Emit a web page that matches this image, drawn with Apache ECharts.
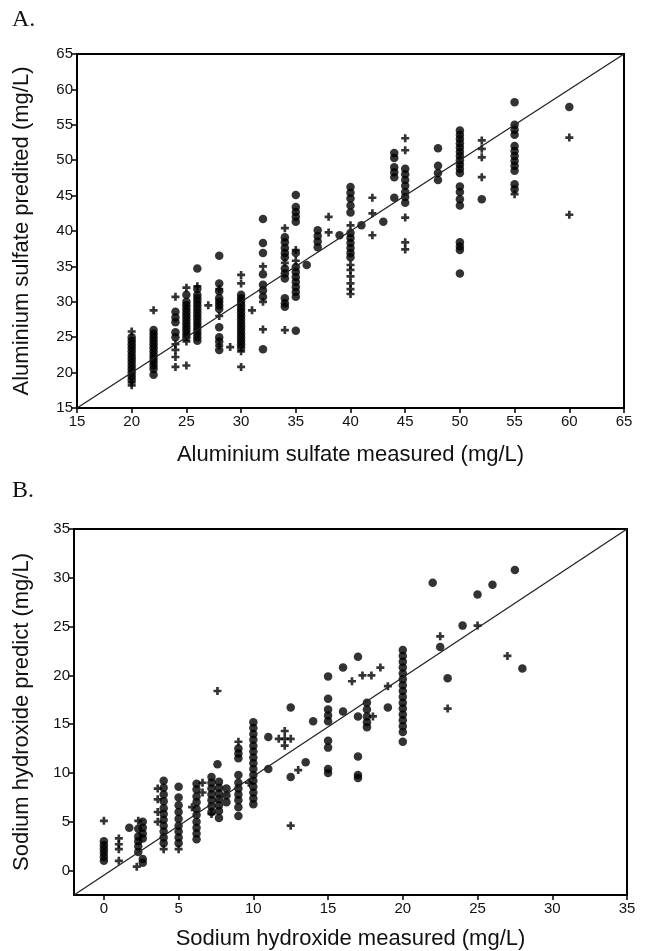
<!DOCTYPE html>
<html><head><meta charset="utf-8">
<script src="https://cdn.jsdelivr.net/npm/echarts@6/dist/echarts.min.js"></script>
<style>html,body{margin:0;padding:0;background:#fff}#c{width:646px;height:951px}</style>
</head><body><div id="c"></div>
<script>
// ---- Panel A data (Aluminium sulfate) ----
const aTicks = [15,20,25,30,35,40,45,50,55,60,65];
const aDiag = [[15,15],[65,65]];
const aDots = [
 [20,19.0],[20,19.5],[20,20.0],[20,20.5],[20,21.0],[20,21.5],[20,22.0],[20,22.5],[20,23.0],[20,23.5],[20,24.0],[20,24.5],[20,25.0],
 [22,19.7],[22,20.5],[22,21.0],[22,21.5],[22,22.0],[22,22.5],[22,23.0],[22,23.5],[22,24.0],[22,24.5],[22,25.0],[22,25.5],[22,26.0],
 [24,25.0],[24,25.7],[24,27.1],[24,27.8],[24,28.6],
 [25,25.0],[25,25.5],[25,26.0],[25,26.5],[25,27.0],[25,27.5],[25,28.0],[25,28.5],[25,29.0],[25,29.5],[25,30.0],[25,31.0],
 [26,34.7],[26,24.5],[26,25.0],[26,25.5],[26,26.0],[26,26.5],[26,27.0],[26,27.5],[26,28.0],[26,28.5],[26,29.0],[26,29.5],[26,30.0],[26,30.5],[26,31.0],[26,31.8],
 [28,36.5],[28,32.6],[28,31.5],[28,30.5],[28,30.0],[28,29.5],[28,29.0],[28,26.4],[28,25.0],[28,24.4],[28,23.2],
 [30,31.0],[30,30.5],[30,30.0],[30,29.5],[30,29.0],[30,28.5],[30,28.0],[30,27.5],[30,27.0],[30,26.5],[30,26.0],[30,25.5],[30,25.0],[30,24.5],[30,24.0],[30,23.5],
 [32,41.7],[32,38.3],[32,36.9],[32,33.9],[32,32.4],[32,31.6],[32,30.7],[32,23.3],
 [34,39.1],[34,38.4],[34,37.6],[34,36.9],[34,36.3],[34,34.7],[34,34.0],[34,33.3],[34,30.5],[34,29.8],[34,29.3],
 [35,45.1],[35,43.4],[35,42.7],[35,42.0],[35,41.3],[35,36.9],[35,34.9],[35,34.2],[35,33.5],[35,32.8],[35,32.1],[35,31.4],[35,30.7],[35,25.9],
 [36,35.2],
 [37,40.1],[37,39.3],[37,38.5],[37,37.7],
 [39,39.4],
 [40,46.2],[40,45.4],[40,44.6],[40,43.6],[40,42.6],[40,39.7],[40,39.0],[40,38.3],[40,37.6],[40,36.9],[40,36.3],
 [41,40.8],[43,41.3],
 [44,51.0],[44,50.3],[44,49.0],[44,48.3],[44,47.6],[44,44.7],
 [45,48.8],[45,48.0],[45,47.2],[45,46.4],[45,45.5],[45,44.8],[45,44.0],
 [48,51.7],[48,49.2],[48,48.2],[48,47.2],
 [50,54.2],[50,53.6],[50,53.0],[50,52.4],[50,51.8],[50,51.2],[50,50.6],[50,50.0],[50,49.4],[50,48.8],[50,48.2],[50,46.3],[50,45.5],[50,44.5],[50,43.6],[50,38.4],[50,37.8],[50,37.3],[50,34.0],
 [52,44.5],
 [55,58.2],[55,55.0],[55,54.3],[55,53.6],[55,52.0],[55,51.3],[55,50.6],[55,49.9],[55,49.2],[55,48.5],[55,46.6],[55,45.9],
 [60,57.5]
];
const aPlus = [
 [20,18.2],[20,18.6],[20,25.8],
 [22,28.8],
 [24,20.8],[24,22.2],[24,23.2],[24,24.0],[24,30.7],
 [25,21.0],[25,24.4],[25,32.0],
 [26,32.2],
 [27,29.5],
 [28,31.8],[28,28.0],[28,23.8],
 [29,23.6],
 [30,33.8],[30,32.6],[30,20.8],[30,23.0],
 [31,28.8],
 [32,26.1],[32,30.0],[32,35.0],
 [34,40.4],[34,26.0],[34,35.5],
 [35,37.3],[35,35.8],
 [38,42.0],[38,39.8],
 [40,40.8],[40,35.2],[40,34.5],[40,33.6],[40,32.6],[40,31.8],[40,31.1],
 [42,44.7],[42,42.5],[42,39.4],
 [45,53.1],[45,51.4],[45,41.9],[45,38.4],[45,37.4],
 [52,52.8],[52,51.6],[52,50.4],[52,47.6],
 [55,45.2],
 [60,53.2],[60,42.3]
];

// ---- Panel B data (Sodium hydroxide) ----
const bTicks = [0,5,10,15,20,25,30,35];
const bDiag = [[-2,-2.5],[35,35]];
const bDots = [
 [0,3.0],[0,2.6],[0,2.2],[0,1.8],[0,1.4],[0,1.0],
 [1.7,4.4],
 [2.3,4.3],[2.3,3.5],[2.3,3.0],[2.3,2.5],[2.3,1.9],
 [2.6,5.0],[2.6,4.4],[2.6,3.8],[2.6,3.3],[2.6,1.2],[2.6,0.8],
 [4,9.2],[4,8.5],[4,7.8],[4,7.1],[4,6.4],[4,5.8],[4,5.2],[4,4.6],[4,4.0],[4,3.4],[4,2.8],
 [5,8.6],[5,7.5],[5,6.7],[5,6.0],[5,5.3],[5,4.6],[5,4.0],[5,3.4],[5,2.8],
 [6.2,8.9],[6.2,8.3],[6.2,7.6],[6.2,7.0],[6.2,6.3],[6.2,5.7],[6.2,5.0],[6.2,4.4],[6.2,3.8],[6.2,3.2],
 [7.2,9.6],[7.2,9.0],[7.2,8.4],[7.2,7.8],[7.2,7.2],[7.2,6.6],[7.2,6.0],
 [7.6,10.9],
 [7.7,9.1],[7.7,8.5],[7.7,7.9],[7.7,7.3],[7.7,6.7],[7.7,6.1],[7.7,5.4],
 [8.2,8.4],[8.2,7.7],[8.2,7.0],
 [9,12.5],[9,12.0],[9,11.5],[9,9.8],[9,9.0],[9,8.4],[9,7.8],[9,7.2],[9,6.5],[9,5.6],
 [10,15.2],[10,14.6],[10,14.0],[10,13.4],[10,12.8],[10,12.2],[10,11.6],[10,11.0],[10,10.4],[10,9.8],[10,9.2],[10,8.6],[10,8.0],[10,7.4],[10,6.8],
 [11,13.7],[11,10.4],
 [12.5,16.7],[12.5,9.6],
 [13.5,11.1],
 [14,15.3],
 [15,19.9],[15,17.6],[15,16.5],[15,15.9],[15,15.3],[15,13.3],[15,12.6],[15,10.4],[15,10.0],
 [16,20.8],[16,16.3],
 [17,21.9],[17,15.8],[17,11.7],[17,9.8],[17,9.5],
 [17.6,17.2],[17.6,16.5],[17.6,15.8],[17.6,15.2],[17.6,14.7],
 [19,16.7],
 [20,22.6],[20,22.0],[20,21.4],[20,20.8],[20,20.2],[20,19.6],[20,19.0],[20,18.4],[20,17.8],[20,17.2],[20,16.6],[20,16.0],[20,15.4],[20,14.8],[20,14.2],[20,13.2],
 [22,29.5],[22.5,22.9],[23,19.7],[24,25.1],[25,28.3],[26,29.3],[27.5,30.8],[28,20.7]
];
const bPlus = [
 [0,5.1],
 [1,3.3],[1,2.7],[1,2.2],[1,1.0],
 [2.2,0.4],[2.3,5.1],
 [3.6,8.4],[3.6,7.3],[3.6,6.0],[3.6,5.0],
 [4,2.2],[5,2.2],
 [5.9,6.5],
 [6.6,9.0],[6.6,8.0],
 [7.2,5.8],
 [7.6,18.4],
 [9,13.2],
 [9.7,9.0],
 [11.7,13.5],[12.1,14.3],[12.1,13.5],[12.1,12.8],[12.5,13.5],
 [12.5,4.6],
 [13,10.3],
 [16.6,19.4],
 [17.3,20.0],[17.9,20.0],
 [18,15.8],
 [18.5,20.8],
 [19,18.9],
 [22.5,24.0],
 [23,16.6],
 [25,25.1],
 [27,22.0]
];

const PLUS = 'path://M3,0H6V3H9V6H6V9H3V6H0V3H3Z';
const FONT = 'Liberation Sans';
const ink = '#111';

function xAx(gi, min, max, name, opts) {
  return Object.assign({
    type:'value', gridIndex:gi, min:min, max:max,
    name:name, nameLocation:'middle', nameGap:36,
    nameTextStyle:{fontFamily:FONT, fontSize:22, color:ink},
    axisLine:{show:true, onZero:false, lineStyle:{color:'#000', width:2}},
    axisTick:{show:true, length:5, lineStyle:{color:'#000', width:1.5}},
    axisLabel:{fontFamily:FONT, fontSize:15, color:ink, margin:6},
    splitLine:{show:false}
  }, opts);
}
function yAx(gi, min, max, name, opts) {
  return Object.assign({
    type:'value', gridIndex:gi, min:min, max:max,
    name:name, nameLocation:'middle', nameGap:44,
    nameTextStyle:{fontFamily:FONT, fontSize:22, color:ink},
    axisLine:{show:true, onZero:false, lineStyle:{color:'#000', width:2}},
    axisTick:{show:true, length:5, lineStyle:{color:'#000', width:1.5}},
    axisLabel:{fontFamily:FONT, fontSize:15, color:ink, margin:4},
    splitLine:{show:false}
  }, opts);
}

const chart = echarts.init(document.getElementById('c'), null, {renderer:'canvas'});
chart.setOption({
  animation:false,
  backgroundColor:'#fff',
  graphic:[
    {type:'text', left:12, top:8, style:{text:'A.', font:'24px "Liberation Serif"', fill:'#111'}},
    {type:'text', left:12, top:479, style:{text:'B.', font:'24px "Liberation Serif"', fill:'#111'}}
  ],
  grid:[
    {left:77, top:54, width:547, height:354, show:true, borderColor:'#000', borderWidth:2, backgroundColor:'transparent'},
    {left:74, top:529, width:553, height:368, show:true, borderColor:'#000', borderWidth:2, backgroundColor:'transparent'}
  ],
  xAxis:[
    xAx(0, 15, 65, 'Aluminium sulfate measured (mg/L)', {interval:5}),
    xAx(1, -2, 35, 'Sodium hydroxide measured (mg/L)', {nameGap:33,
      axisLabel:{fontFamily:FONT, fontSize:15, color:ink, margin:6, customValues:bTicks},
      axisTick:{show:true, length:5, lineStyle:{color:'#000', width:1.5}, customValues:bTicks}})
  ],
  yAxis:[
    yAx(0, 15, 65, 'Aluminium sulfate predited (mg/L)', {interval:5}),
    yAx(1, -2.5, 35, 'Sodium hydroxide predict (mg/L)', {nameGap:41,
      axisLabel:{fontFamily:FONT, fontSize:15, color:ink, margin:4, customValues:bTicks},
      axisTick:{show:true, length:5, lineStyle:{color:'#000', width:1.5}, customValues:bTicks}})
  ],
  series:[
    {type:'line', xAxisIndex:0, yAxisIndex:0, data:aDiag, symbol:'none', lineStyle:{color:'#222', width:1.3}},
    {type:'scatter', xAxisIndex:0, yAxisIndex:0, data:aDots, symbol:'circle', symbolSize:8.5, itemStyle:{color:'#000'}},
    {type:'scatter', xAxisIndex:0, yAxisIndex:0, data:aPlus, symbol:PLUS, symbolSize:8, itemStyle:{color:'#000'}},
    {type:'line', xAxisIndex:1, yAxisIndex:1, data:bDiag, symbol:'none', lineStyle:{color:'#222', width:1.3}},
    {type:'scatter', xAxisIndex:1, yAxisIndex:1, data:bDots, symbol:'circle', symbolSize:8.5, itemStyle:{color:'#000'}},
    {type:'scatter', xAxisIndex:1, yAxisIndex:1, data:bPlus, symbol:PLUS, symbolSize:8, itemStyle:{color:'#000'}}
  ]
});
</script>
</body></html>
